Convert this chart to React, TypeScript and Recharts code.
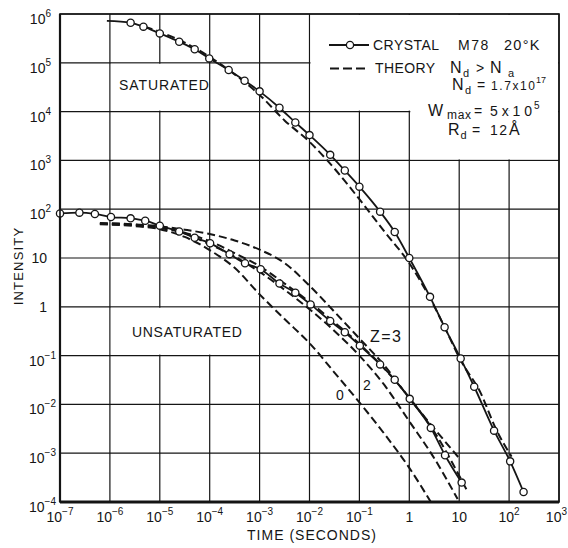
import { CartesianGrid, Line, LineChart, XAxis, YAxis } from "recharts";

const FONT = "'Liberation Sans', Arial, sans-serif";
const INK = "#151515";

// axis ticks (decades)
const timeTicks = [1e-7, 1e-6, 1e-5, 1e-4, 1e-3, 1e-2, 1e-1, 1, 10, 100, 1000];
const intensityTicks = [1e-4, 1e-3, 1e-2, 1e-1, 1, 10, 100, 1e3, 1e4, 1e5, 1e6];

// SATURATED – crystal (measured, open circles)
const satCrystalTime = [8.7e-7, 2.6e-6, 4.7e-6, 1.0e-5, 2.45e-5, 5.0e-5, 9.8e-5, 2.4e-4, 5.0e-4, 1.0e-3, 2.5e-3, 5.2e-3, 1.0e-2, 2.6e-2, 5.1e-2, 0.1, 0.26, 0.51, 1.0, 2.6, 5.1, 10.7, 20, 50, 105, 195];
const satCrystalIntensity = [7.2e5, 6.6e5, 5.5e5, 4.0e5, 2.7e5, 1.9e5, 1.23e5, 7.1e4, 4.3e4, 2.6e4, 1.2e4, 6.0e3, 3.3e3, 1.3e3, 620, 290, 89, 34, 10, 1.6, 0.38, 0.087, 0.023, 2.9e-3, 6.8e-4, 1.6e-4];

// SATURATED – theory
const satTheoryTime = [5.0e-6, 1e-5, 3.16e-5, 1e-4, 3.16e-4, 1e-3, 3.16e-3, 1e-2, 3.16e-2, 0.1, 0.316, 1, 2.7, 5, 10.7, 27, 54, 112];
const satTheoryIntensity = [5.5e5, 4.3e5, 2.6e5, 1.32e5, 5.8e4, 2.2e4, 6.6e3, 2.4e3, 680, 160, 35, 7.8, 1.4, 0.4, 0.08, 0.017, 3.2e-3, 8.5e-4];

// UNSATURATED – crystal
const unsatCrystalTime = [1e-7, 2.45e-7, 5.0e-7, 1.05e-6, 2.6e-6, 5.1e-6, 1.0e-5, 2.45e-5, 5.0e-5, 1.02e-4, 2.5e-4, 5.1e-4, 1.05e-3, 2.5e-3, 5.2e-3, 1.05e-2, 2.6e-2, 5.1e-2, 0.102, 0.26, 0.51, 1.02, 2.7, 5.2, 11.2];
const unsatCrystalIntensity = [82, 85, 80, 69, 65, 58, 46, 35, 26, 20, 12, 7.8, 5.9, 3.0, 1.95, 1.12, 0.51, 0.3, 0.16, 0.066, 0.032, 0.013, 3.3e-3, 9.1e-4, 2.5e-4];

// UNSATURATED – theory curves
const theoryZ3Time = [6.3e-7, 3.16e-6, 1e-5, 3.16e-5, 1e-4, 3.16e-4, 1e-3, 3.16e-3, 1e-2, 3.16e-2, 0.1, 0.316, 1, 3.16, 10];
const theoryZ3Intensity = [52, 49, 44.7, 38, 31, 22.9, 14.8, 7.9, 2.7, 0.79, 0.224, 0.063, 0.0135, 3.2e-3, 7.9e-4];
const theoryNearTime = [6.3e-7, 3.16e-6, 1e-5, 3.16e-5, 1e-4, 3.16e-4, 1e-3, 3.16e-3, 1e-2, 3.16e-2, 0.1, 0.316, 1, 3.16, 14];
const theoryNearIntensity = [51, 48, 43, 33, 22, 12.6, 6.8, 3.0, 1.26, 0.48, 0.174, 0.054, 0.0138, 2.75e-3, 1.8e-4];
const theoryZ2Time = [6.3e-7, 3.16e-6, 1e-5, 3.16e-5, 1e-4, 3.16e-4, 1e-3, 3.16e-3, 1e-2, 3.16e-2, 0.1, 0.316, 1, 3.16, 9.3];
const theoryZ2Intensity = [50, 47, 41, 32, 19, 10.7, 5.2, 2.24, 0.89, 0.32, 0.1, 0.025, 4.5e-3, 7.9e-4, 1.15e-4];
const theoryZ0Time = [6.3e-7, 3.16e-6, 1e-5, 3.16e-5, 1e-4, 3.16e-4, 1e-3, 3.16e-3, 1e-2, 3.16e-2, 0.1, 0.316, 1, 2.7];
const theoryZ0Intensity = [49, 45, 39, 27, 14.5, 6.3, 1.8, 0.56, 0.18, 0.045, 0.011, 2.5e-3, 5e-4, 1.0e-4];

const pts = (t: number[], v: number[]) => t.map((x, i) => ({ t: x, v: v[i] }));

const satCrystal = pts(satCrystalTime, satCrystalIntensity);
const satTheory = pts(satTheoryTime, satTheoryIntensity);
const unsatCrystal = pts(unsatCrystalTime, unsatCrystalIntensity);
const theoryZ3 = pts(theoryZ3Time, theoryZ3Intensity);
const theoryNear = pts(theoryNearTime, theoryNearIntensity);
const theoryZ2 = pts(theoryZ2Time, theoryZ2Intensity);
const theoryZ0 = pts(theoryZ0Time, theoryZ0Intensity);

// plot geometry (matches the chart margins below) for the blank label boxes
const PL = 60, PT = 14, PW = 499, PH = 488;
const sx = (t: number) => PL + ((Math.log10(t) + 7) / 10) * PW;
const sy = (v: number) => PT + ((6 - Math.log10(v)) / 10) * PH;
const box = (t1: number, t2: number, v1: number, v2: number, key: string) => (
  <rect key={key} x={sx(t1) + 1} y={sy(v2) + 1} width={sx(t2) - sx(t1) - 2} height={sy(v1) - sy(v2) - 2} fill="#fff" />
);

const sup = (e: number) => (e < 0 ? "\u2212" + -e : String(e));

function TimeTick({ x, payload }: any) {
  const e = Math.round(Math.log10(payload.value));
  const last = e === 3;
  return (
    <text x={last ? 567 : x} y={522} textAnchor={last ? "end" : "middle"} fontSize={14} fill={INK} fontFamily={FONT}>
      {e === 0 ? "1" : e === 1 ? "10" : (
        <>
          10<tspan dy={-7} fontSize={10}>{sup(e)}</tspan>
        </>
      )}
    </text>
  );
}

function IntensityTick({ y, payload }: any) {
  const e = Math.round(Math.log10(payload.value));
  if (e === 0 || e === 1) {
    return (
      <text x={47} y={y + 5} textAnchor="end" fontSize={14} fill={INK} fontFamily={FONT}>
        {e === 0 ? "1" : "10"}
      </text>
    );
  }
  return (
    <text x={e < 0 ? 56 : 51} y={y + 10} textAnchor="end" fontSize={14} fill={INK} fontFamily={FONT}>
      10<tspan dy={-7} fontSize={10}>{sup(e)}</tspan>
    </text>
  );
}

const openDot = { r: 3.6, fill: "#fff", stroke: INK, strokeWidth: 1.3 };

function SatDot(p: any) {
  if (p.index === 0) return <g key={`s${p.index}`} />;
  return <circle key={`s${p.index}`} cx={p.cx} cy={p.cy} r={3.6} fill="#fff" stroke={INK} strokeWidth={1.3} />;
}

const dashed = { stroke: INK, strokeWidth: 2, strokeDasharray: "8 4", dot: false, activeDot: false, isAnimationActive: false, type: "monotone" as const };

export default function App() {
  return (
    <div style={{ position: "relative", width: 568, height: 548, background: "#fff", fontFamily: FONT }}>
      <style>{"body{margin:0}"}</style>
      <LineChart width={568} height={548} margin={{ top: 14, right: 9, bottom: 0, left: 0 }}>
        <CartesianGrid stroke={INK} strokeWidth={1.2} />
        <XAxis dataKey="t" type="number" scale="log" domain={[1e-7, 1e3]} ticks={timeTicks} interval={0}
          tick={TimeTick} tickLine={false} axisLine={{ stroke: INK, strokeWidth: 3 }} height={46} />
        <YAxis type="number" scale="log" domain={[1e-4, 1e6]} ticks={intensityTicks} interval={0}
          tick={IntensityTick} tickLine={false} axisLine={{ stroke: INK, strokeWidth: 2.2 }} width={60} />

        <Line data={satTheory} dataKey="v" {...dashed} />
        <Line data={theoryZ3} dataKey="v" {...dashed} />
        <Line data={theoryNear} dataKey="v" {...dashed} />
        <Line data={theoryZ2} dataKey="v" {...dashed} />
        <Line data={theoryZ0} dataKey="v" {...dashed} />
        <Line data={satCrystal} dataKey="v" type="monotone" stroke={INK} strokeWidth={1.8} dot={SatDot} activeDot={false} isAnimationActive={false} />
        <Line data={unsatCrystal} dataKey="v" type="monotone" stroke={INK} strokeWidth={1.8} dot={openDot} activeDot={false} isAnimationActive={false} />
      </LineChart>

      <svg width={568} height={548} style={{ position: "absolute", left: 0, top: 0, pointerEvents: "none" }} fontFamily={FONT} fill={INK}>
        {/* blank boxes behind labels and legend */}
        {box(1e-6, 1e-4, 1e4, 1e5, "b1")}
        {box(1e-6, 1e-3, 0.1, 1, "b2")}
        {box(1e-2, 1e3, 1e4, 1e6, "b3")}
        {box(1, 1e3, 1e3, 1.1e4, "b4")}
        <rect x={PL} y={PT} width={PW} height={PH} fill="none" stroke={INK} strokeWidth={1.6} />

        {/* axis titles */}
        <text x={18} y={266} transform="rotate(-90 18 266)" textAnchor="middle" dominantBaseline="central" fontSize={13} letterSpacing={1.2}>INTENSITY</text>
        <text x={312} y={540} textAnchor="middle" fontSize={14} letterSpacing={1}>TIME (SECONDS)</text>

        {/* region labels */}
        <text x={119} y={90} fontSize={14} letterSpacing={0.9}>SATURATED</text>
        <text x={132} y={337} fontSize={14} letterSpacing={0.7}>UNSATURATED</text>
        <text x={370} y={341.5} fontSize={16} letterSpacing={1.5}>Z=3</text>
        <text x={363} y={390} fontSize={14}>2</text>
        <text x={336} y={400} fontSize={14}>0</text>

        {/* legend */}
        <line x1={329} x2={369} y1={45} y2={45} stroke={INK} strokeWidth={1.8} />
        <circle cx={350} cy={45} r={3.6} fill="#fff" stroke={INK} strokeWidth={1.3} />
        <text x={373} y={50} fontSize={14} textLength={66}>CRYSTAL</text>
        <text x={458} y={50} fontSize={14} letterSpacing={1.5}>M78</text>
        <text x={504} y={50} fontSize={14.5} letterSpacing={1.3}>20°K</text>

        <line x1={330} x2={368} y1={68.5} y2={68.5} stroke={INK} strokeWidth={2} strokeDasharray="9 4" />
        <text x={375} y={73} fontSize={14} textLength={60}>THEORY</text>
        <text x={450} y={73} fontSize={16}>N</text>
        <text x={463} y={77} fontSize={11}>d</text>
        <text x={476} y={73} fontSize={14}>&gt;</text>
        <text x={490} y={73} fontSize={16}>N</text>
        <text x={508} y={77} fontSize={11}>a</text>

        <text x={452} y={90} fontSize={16}>N</text>
        <text x={465} y={94} fontSize={11}>d</text>
        <text x={477} y={90} fontSize={14} textLength={12}>=</text>
        <text x={491} y={90} fontSize={12} textLength={44}>1.7x10</text>
        <text x={536} y={83} fontSize={9}>17</text>

        <text x={428} y={116} fontSize={16}>W</text>
        <text x={447} y={119} fontSize={12} textLength={24}>max</text>
        <text x={474} y={116} fontSize={14} textLength={12}>=</text>
        <text x={490} y={116} fontSize={14} textLength={42}>5x10</text>
        <text x={534} y={109} fontSize={10}>5</text>

        <text x={448} y={135} fontSize={16}>R</text>
        <text x={460.5} y={139} fontSize={11}>d</text>
        <text x={472} y={135} fontSize={14} textLength={12}>=</text>
        <text x={490} y={135} fontSize={14} textLength={17}>12</text>
        <text x={509} y={135} fontSize={16}>Å</text>
      </svg>
    </div>
  );
}
